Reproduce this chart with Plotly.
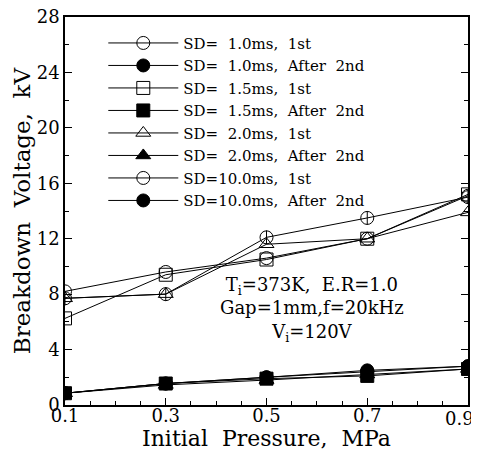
import plotly.graph_objects as go

pressure = [0.1, 0.3, 0.5, 0.7, 0.9]
pressure_labels = ["0.1", "0.3", "0.5", "0.7", "0.9"]

names = [
    "SD=  1.0ms,  1st",
    "SD=  1.0ms,  After  2nd",
    "SD=  1.5ms,  1st",
    "SD=  1.5ms,  After  2nd",
    "SD=  2.0ms,  1st",
    "SD=  2.0ms,  After  2nd",
    "SD=10.0ms,  1st",
    "SD=10.0ms,  After  2nd",
]

sd10_1st = [8.2, 9.6, 10.6, 12.0, 15.1]
sd10_after = [0.85, 1.55, 2.0, 2.4, 2.8]
sd15_1st = [6.25, 9.4, 10.5, 12.0, 15.2]
sd15_after = [0.85, 1.55, 1.9, 2.1, 2.6]
sd20_1st = [7.7, 8.0, 11.6, 12.0, 13.9]
sd20_after = [0.85, 1.45, 1.8, 2.2, 2.6]
sd100_1st = [7.7, 8.0, 12.1, 13.5, 15.0]
sd100_after = [0.85, 1.55, 2.0, 2.5, 2.8]
err_1st = [0.5, 0.5, 0.5, 0.5, 0.5]
err_after = [0.4, 0.4, 0.4, 0.4, 0.4]

series = [sd10_1st, sd10_after, sd15_1st, sd15_after, sd20_1st, sd20_after, sd100_1st, sd100_after]
symbols = ["circle-open", "circle", "square-open", "square", "triangle-up-open", "triangle-up", "circle-open", "circle"]
errors = [None, None, None, None, None, None, err_1st, err_after]

FONT = "DejaVu Serif"

fig = go.Figure()
for nm, ys, sym, er in zip(names, series, symbols, errors):
    kw = {}
    if er is not None:
        kw["error_y"] = dict(type="data", array=er, visible=True, color="black", thickness=1, width=0)
    fig.add_trace(go.Scatter(
        x=pressure, y=ys, name=nm, mode="lines+markers",
        line=dict(color="black", width=1),
        marker=dict(symbol=sym, size=13, color="black", line=dict(color="black", width=1)),
        **kw,
    ))

fig.add_annotation(
    x=0.59, y=6.9, xref="x", yref="y", showarrow=False,
    text="T<sub>i</sub>=373K,  E.R=1.0<br>Gap=1mm,f=20kHz<br>V<sub>i</sub>=120V",
    font=dict(family=FONT, size=18, color="black"), align="center",
)
# last x tick label, right-aligned near its tick so it stays inside the page
fig.add_annotation(
    x=pressure[-1], y=0, xref="x", yref="paper", showarrow=False,
    text=pressure_labels[-1], xanchor="right", yanchor="top", xshift=8, yshift=-1,
    font=dict(family=FONT, size=18, color="black"),
)

fig.update_layout(
    width=471, height=450,
    margin=dict(l=57, r=11, t=9, b=53),
    paper_bgcolor="white", plot_bgcolor="white",
    font=dict(family=FONT, color="black", size=15),
    legend=dict(x=0.095, y=0.975, xanchor="left", yanchor="top",
                bgcolor="rgba(0,0,0,0)", font=dict(family=FONT, size=15),
                itemwidth=70, tracegroupgap=0),
    showlegend=True,
)
fig.update_xaxes(
    range=[0.1, 0.9], tickvals=pressure, ticktext=pressure_labels[:-1] + [""],
    ticks="inside", ticklen=7, tickcolor="black", showline=True, linecolor="black", linewidth=1.5,
    mirror=True, showgrid=False, zeroline=False, automargin=False,
    ticklabeloverflow="allow", ticklabelstandoff=-6,
    minor=dict(dtick=0.05, tick0=0.1, ticks="inside", ticklen=4, tickcolor="black"),
    title=dict(text="Initial  Pressure,  MPa", font=dict(size=22), standoff=4),
    tickfont=dict(size=18),
)
fig.update_yaxes(
    range=[0, 28], dtick=4, tick0=0,
    ticks="inside", ticklen=7, tickcolor="black", showline=True, linecolor="black", linewidth=1.5,
    mirror="ticks", showgrid=False, zeroline=False, automargin=False,
    ticklabeloverflow="allow",
    minor=dict(dtick=2, ticks="inside", ticklen=4, tickcolor="black"),
    title=dict(text="Breakdown  Voltage,  kV", font=dict(size=23), standoff=0),
    tickfont=dict(size=18),
)

fig.write_html("out.html")
